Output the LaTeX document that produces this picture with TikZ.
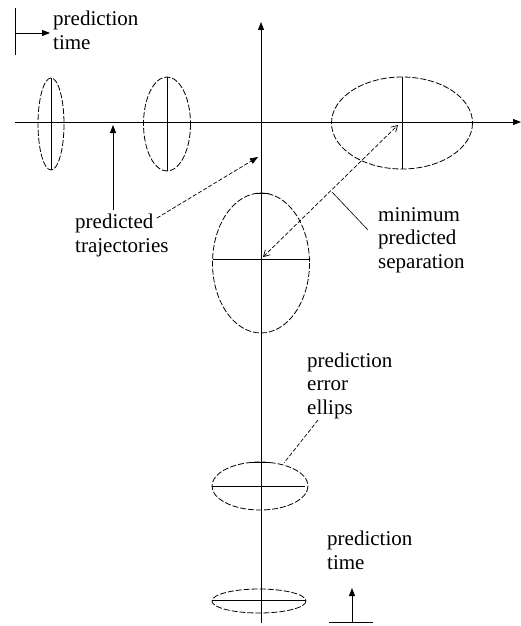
\documentclass[tikz,border=0pt]{standalone}
\usepackage{fontspec}
\setmainfont{Liberation Serif}
\usetikzlibrary{arrows.meta}
\begin{document}
\begin{tikzpicture}[x=1pt,y=-1pt,
  ax/.style={line width=0.9pt},
  ell/.style={line width=0.8pt, dash pattern=on 6pt off 2pt},
  lbl/.style={font=\fontsize{21}{23.5}\selectfont, align=left, inner sep=0pt, anchor=base west},
  tip/.style={-{Triangle[length=8pt,width=6pt]}},
  dsh/.style={line width=0.7pt, dash pattern=on 4pt off 2pt},
  open/.style={{Straight Barb[length=6pt,width=7pt]}-{Straight Barb[length=6pt,width=7pt]}}]
\useasboundingbox (0,0) rectangle (521,626);
% axes
\coordinate (hl) at (15,122); \coordinate (hr) at (521,122);
\coordinate (vt) at (261,22); \coordinate (vb) at (261,623);
\draw[ax,tip] (hl) -- (hr);
\draw[ax,tip] (vb) -- (vt);
% horizontal-trajectory ellipses
\coordinate (e1) at (51,124);
\draw[ell] (e1) ellipse [x radius=13, y radius=46];
\draw[ax] (51,78) -- (51,170);
\coordinate (e2) at (167,124);
\draw[ell] (e2) ellipse [x radius=23.5, y radius=47];
\draw[ax] (167,77) -- (167,171);
\coordinate (e3) at (402,123);
\draw[ell] (e3) ellipse [x radius=70.5, y radius=46];
\draw[ax] (402,77) -- (402,169);
% vertical-trajectory ellipses
\coordinate (e4) at (261,263);
\draw[ell] (e4) ellipse [x radius=48.5, y radius=70];
\draw[ax] (213,259) -- (310,259);
\draw[ax] (256,193) -- (269,193);
\coordinate (e5) at (260,486);
\draw[ell] (e5) ellipse [x radius=48, y radius=24];
\draw[ax] (212,486) -- (305,486);
\draw[ax] (251,462) -- (270,462);
\coordinate (e6) at (259,601);
\draw[ell] (e6) ellipse [x radius=47, y radius=12];
\draw[ax] (212,600) -- (306,600);
% labels (anchored at the baseline of the last line)
\node[lbl] (tl) at (53,49) {prediction\\time};
\node[lbl] (traj) at (75,252) {predicted\\trajectories};
\node[lbl] (minsep) at (378,268) {minimum\\predicted\\separation};
\node[lbl] (err) at (307,414) {prediction\\error\\ellips};
\node[lbl] (bt) at (327,569) {prediction\\time};
% top-left time arrow
\coordinate (tlA) at (15,8); \coordinate (tlB) at (15,55);
\coordinate (tlC) at (15,33); \coordinate (tlD) at (50,33);
\draw[ax] (tlA) -- (tlB);
\draw[ax,tip] (tlC) -- (tlD);
% trajectory pointers
\coordinate (p1s) at (113,210); \coordinate (p1e) at (113,125);
\draw[ax,tip] (p1s) -- (p1e);
\coordinate (p2s) at (157,218); \coordinate (p2e) at (258,157);
\draw[dsh,tip] (p2s) -- (p2e);
% minimum separation
\coordinate (m1) at (263,257); \coordinate (m2) at (398,125);
\draw[dsh,open] (m1) -- (m2);
\coordinate (ms1) at (332,192); \coordinate (ms2) at (368,230);
\draw[line width=0.6pt] (ms1) -- (ms2);
% error ellipse leader
\coordinate (el1) at (318,420); \coordinate (el2) at (284,463);
\draw[dsh] (el1) -- (el2);
% bottom time arrow
\coordinate (bA) at (329,622); \coordinate (bB) at (373,622);
\coordinate (bC) at (352,622); \coordinate (bD) at (352,588);
\draw[ax] (bA) -- (bB);
\draw[ax,tip] (bC) -- (bD);
\end{tikzpicture}
\end{document}
